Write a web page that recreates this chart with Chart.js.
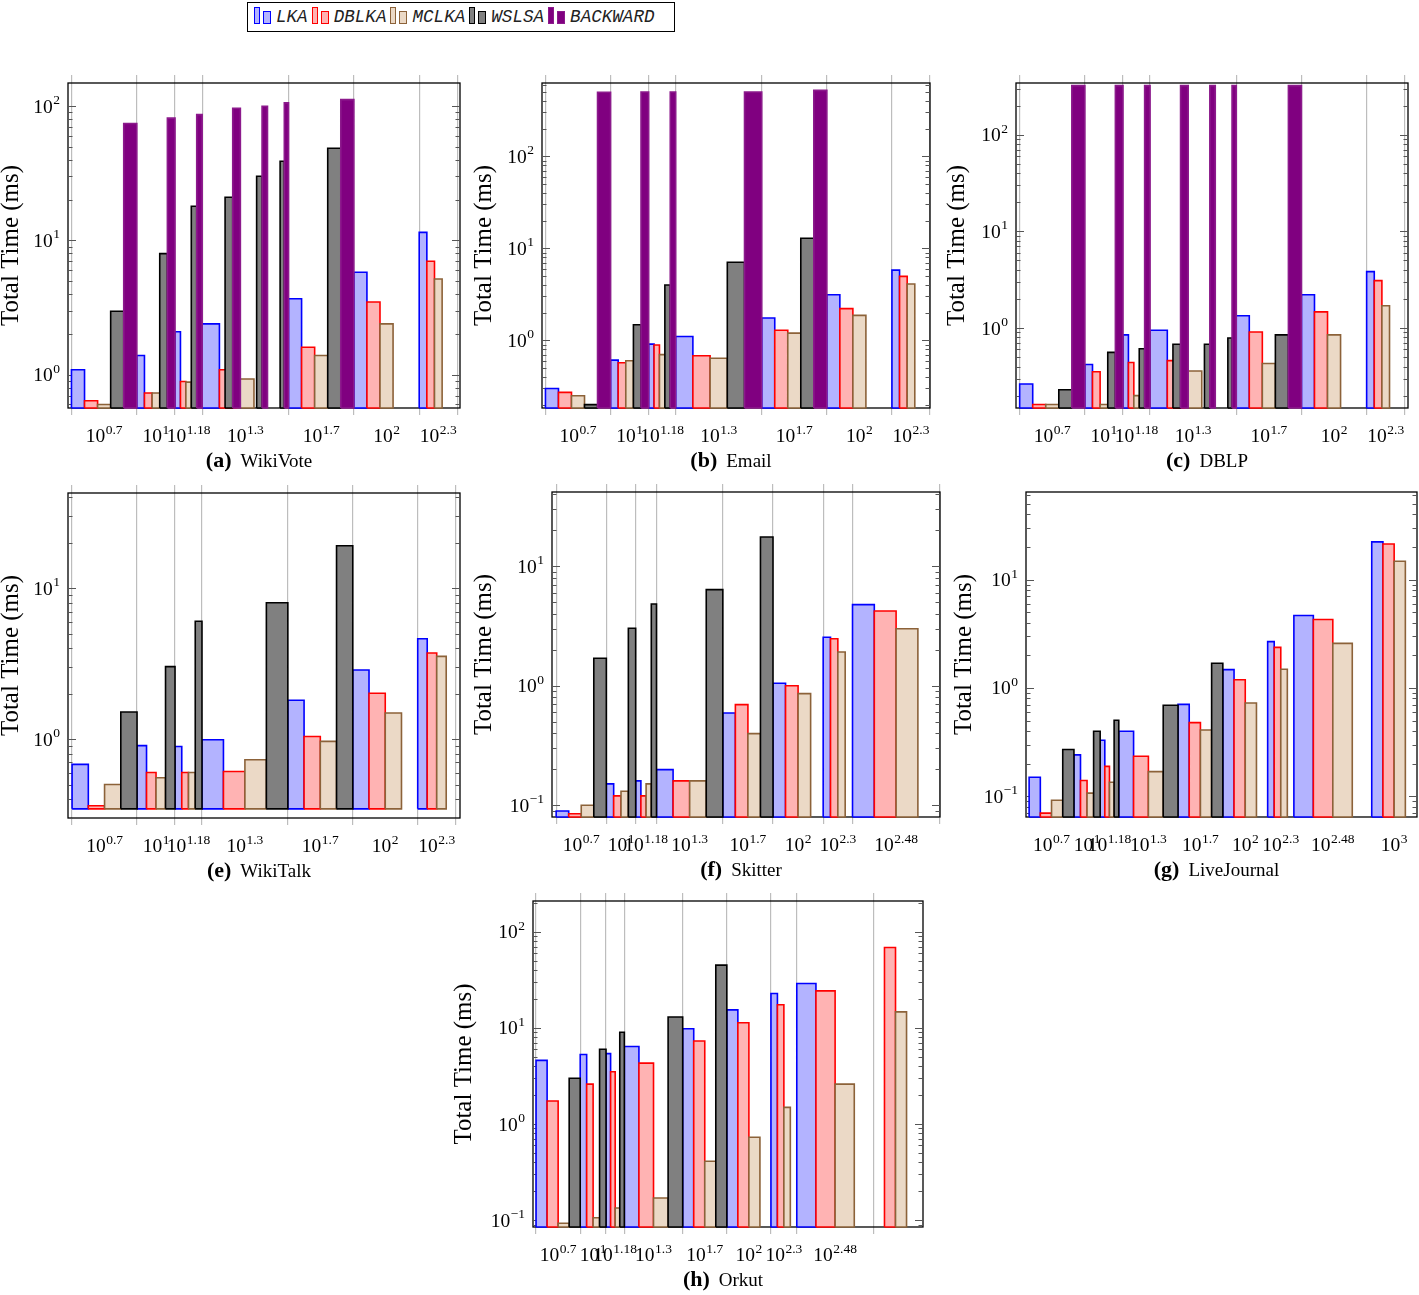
<!DOCTYPE html>
<html lang="en">
<head>
<meta charset="UTF-8">
<title>Total time per k</title>
<script src="https://cdn.jsdelivr.net/npm/chart.js@4.4.0/dist/chart.umd.min.js"></script>
<style>
  html, body { margin: 0; background: #fff; overflow: hidden; }
  #page { position: relative; width: 1419px; height: 1295px; }
  #page canvas { position: absolute; }
  #legend {
    position: absolute; left: 247px; top: 2px; width: 420px; height: 28px;
    border: 1.5px solid #000; display: flex; align-items: center; padding-left: 6px;
    box-sizing: content-box;
    font: italic 17.6px "Liberation Mono", "DejaVu Sans Mono", monospace; color: #222;
  }
  .item { display: flex; align-items: center; height: 28px; margin-right: 4px; }
  .sw { position: relative; width: 18px; height: 28px; margin-right: 4px; }
  .sw i { position: absolute; bottom: 7px; border: 1.5px solid; box-sizing: border-box; }
  .sw i:first-child { left: 0; width: 6px; height: 17px; }
  .sw i:last-child { left: 9px; width: 8px; height: 13px; }
  .item span { line-height: 28px; }
</style>
</head>
<body>
<div id="page">
  <div id="legend"></div>
</div>
<script>
  // k values (x axis is log scale, tick labels sit between ticks)
  const kTicks = [5, 10, 15, 20, 50, 100, 200, 300];
  const kTicksLong = [5, 10, 15, 20, 50, 100, 200, 300, 1000];
  const kTicksLJ = [5, 10, 15, 20, 50, 100, 200, 300, 1000, 2000];
  const kSweepFine = [5, 10, 15, 20, 30, 40, 50, 100];
  const kSweep = [5, 10, 15, 20, 50, 100];

  // (a) WikiVote
  const wikiVoteLKA = [1.09, 1.39, 2.09, 2.39, 3.68, 5.8, 11.5];
  const wikiVoteDBLKA = [0.64, 0.73, 0.89, 1.09, 1.6, 3.48, 7.0];
  const wikiVoteMCLKA = [0.6, 0.73, 0.88, 0.93, 1.39, 2.39, 5.16];
  const wikiVoteWSLSA = [2.97, 7.98, 18.0, 21.0, 30.1, 38.9, 48.7];
  const wikiVoteBACKWARD = [74.3, 81.5, 86.6, 96.6, 100, 106, 112];

  // (b) Email
  const emailLKA = [0.3, 0.61, 0.91, 1.1, 1.75, 3.13, 5.8];
  const emailDBLKA = [0.272, 0.57, 0.89, 0.68, 1.29, 2.21, 4.96];
  const emailMCLKA = [0.25, 0.6, 0.7, 0.64, 1.2, 1.87, 4.1];
  const emailWSLSA = [0.2, 1.48, 4.0, 7.05, 12.9];
  const emailBACKWARD = [497, 500, 500, 500, 521];

  // (c) DBLP
  const dblpLKA = [0.264, 0.42, 0.85, 0.95, 1.34, 2.21, 3.83];
  const dblpDBLKA = [0.162, 0.353, 0.44, 0.46, 0.91, 1.47, 3.09];
  const dblpMCLKA = [0.162, 0.162, 0.2, 0.36, 0.43, 0.85, 1.7];
  const dblpWSLSA = [0.23, 0.56, 0.61, 0.68, 0.68, 0.79, 0.85];
  const dblpBACKWARD = [321, 321, 321, 321, 321, 321, 321];

  // (e) WikiTalk
  const wikiTalkLKA = [0.68, 0.905, 0.893, 0.99, 1.81, 2.87, 4.62];
  const wikiTalkDBLKA = [0.362, 0.6, 0.6, 0.61, 1.04, 2.01, 3.72];
  const wikiTalkMCLKA = [0.5, 0.555, 0.6, 0.73, 0.966, 1.49, 3.53];
  const wikiTalkWSLSA = [1.51, 3.02, 6.04, 8.0, 19.1];

  // (f) Skitter
  const skitterLKA = [0.0897, 0.151, 0.16, 0.199, 0.593, 1.05, 2.55, 4.78];
  const skitterDBLKA = [0.085, 0.12, 0.12, 0.16, 0.696, 1.0, 2.48, 4.23];
  const skitterMCLKA = [0.1, 0.131, 0.151, 0.16, 0.398, 0.86, 1.92, 3.0];
  const skitterWSLSA = [1.7, 3.03, 4.84, 6.38, 17.6];

  // (g) LiveJournal
  const liveJournalLKA = [0.15, 0.241, 0.329, 0.398, 0.706, 1.476, 2.68, 4.66, 22.3];
  const liveJournalDBLKA = [0.07, 0.14, 0.189, 0.234, 0.479, 1.19, 2.37, 4.28, 21.3];
  const liveJournalMCLKA = [0.092, 0.107, 0.135, 0.169, 0.409, 0.727, 1.49, 2.58, 14.8];
  const liveJournalWSLSA = [0.27, 0.398, 0.503, 0.692, 1.69];

  // (h) Orkut
  const orkutLKA = [4.6, 5.3, 5.4, 6.4, 9.8, 15.4, 22.8, 29];
  const orkutDBLKA = [1.74, 2.6, 3.5, 4.3, 7.3, 11.3, 17.4, 24.3, 68.7];
  const orkutMCLKA = [0.093, 0.106, 0.134, 0.17, 0.41, 0.73, 1.49, 2.6, 14.7];
  const orkutWSLSA = [3.0, 6.0, 9.0, 13.0, 45];

  const seriesStyle = {
    LKA: { fill: '#b3b3ff', line: '#0000ff' },
    DBLKA: { fill: '#ffb3b3', line: '#ff0000' },
    MCLKA: { fill: '#ebd9c6', line: '#8c6239' },
    WSLSA: { fill: '#808080', line: '#000000' },
    BACKWARD: { fill: '#800080', line: '#8c1a8c' }
  };

  const SERIF = '"Liberation Serif", "Times New Roman", serif';
  const PAD = { left: 82, right: 3, top: 12, bottom: 75 };

  const panels = [
    { id: 'a', name: 'WikiVote', box: [68, 83, 392, 325], xLog: [0.683, 2.489], yLim: [0.565, 149],
      gridK: kTicks, labelK: kTicks, titleDx: 57,
      series: [['LKA', kTicks, wikiVoteLKA], ['DBLKA', kTicks, wikiVoteDBLKA], ['MCLKA', kTicks, wikiVoteMCLKA],
               ['WSLSA', kSweepFine, wikiVoteWSLSA], ['BACKWARD', kSweepFine, wikiVoteBACKWARD]] },
    { id: 'b', name: 'Email', box: [542, 83, 388, 325], xLog: [0.683, 2.477], yLim: [0.184, 627],
      gridK: kTicks, labelK: kTicks, titleDx: 58,
      series: [['LKA', kTicks, emailLKA], ['DBLKA', kTicks, emailDBLKA], ['MCLKA', kTicks, emailMCLKA],
               ['WSLSA', kSweep, emailWSLSA], ['BACKWARD', kSweep, emailBACKWARD]] },
    { id: 'c', name: 'DBLP', box: [1016, 83, 392, 325], xLog: [0.682, 2.492], yLim: [0.149, 342],
      gridK: kTicks, labelK: kTicks, titleDx: 58.5,
      series: [['LKA', kTicks, dblpLKA], ['DBLKA', kTicks, dblpDBLKA], ['MCLKA', kTicks, dblpMCLKA],
               ['WSLSA', kSweepFine, dblpWSLSA], ['BACKWARD', kSweepFine, dblpBACKWARD]] },
    { id: 'e', name: 'WikiTalk', box: [68, 493, 392, 325], xLog: [0.68, 2.497], yLim: [0.345, 42.7],
      gridK: kTicks, labelK: kTicks, titleDx: 57,
      series: [['LKA', kTicks, wikiTalkLKA], ['DBLKA', kTicks, wikiTalkDBLKA], ['MCLKA', kTicks, wikiTalkMCLKA],
               ['WSLSA', kSweep, wikiTalkWSLSA]] },
    { id: 'f', name: 'Skitter', box: [552, 492, 388, 325], xLog: [0.674, 3.002], yLim: [0.0798, 41.9],
      gridK: kTicksLong, labelK: kTicksLong, titleDx: 67.5,
      series: [['LKA', kTicksLong, skitterLKA], ['DBLKA', kTicksLong, skitterDBLKA], ['MCLKA', kTicksLong, skitterMCLKA],
               ['WSLSA', kSweep, skitterWSLSA]] },
    { id: 'g', name: 'LiveJournal', box: [1026, 492, 391, 325], xLog: [0.678, 3.304], yLim: [0.0644, 64.4],
      gridK: [], labelK: kTicksLJ, titleDx: 62,
      series: [['LKA', kTicksLJ, liveJournalLKA], ['DBLKA', kTicksLJ, liveJournalDBLKA], ['MCLKA', kTicksLJ, liveJournalMCLKA],
               ['WSLSA', kSweep, liveJournalWSLSA]] },
    { id: 'h', name: 'Orkut', box: [533, 901, 390, 326], xLog: [0.678, 3.338], yLim: [0.085, 209],
      gridK: kTicksLong, labelK: kTicksLong, titleDx: 68.5,
      series: [['LKA', kTicksLong, orkutLKA], ['DBLKA', kTicksLJ, orkutDBLKA], ['MCLKA', kTicksLJ, orkutMCLKA],
               ['WSLSA', kSweep, orkutWSLSA]] }
  ];

  // legend
  const legend = document.getElementById('legend');
  Object.keys(seriesStyle).forEach(name => {
    const st = seriesStyle[name];
    const item = document.createElement('div');
    item.className = 'item';
    item.innerHTML = `<div class="sw"><i></i><i></i></div><span>${name}</span>`;
    item.querySelectorAll('i').forEach(r => { r.style.background = st.fill; r.style.borderColor = st.line; });
    legend.appendChild(item);
  });

  // each bar of series `slot` covers its share of the interval [k_i, k_i+1]
  function barPoints(k, vals, slot, slots, base) {
    const pts = [];
    vals.forEach((v, i) => {
      if (v == null) return;
      const a = Math.log10(k[i]), b = Math.log10(k[i + 1]);
      const x0 = 10 ** (a + (b - a) * slot / slots);
      const x1 = 10 ** (a + (b - a) * (slot + 1) / slots);
      pts.push({ x: x0, y: base }, { x: x0, y: v }, { x: x1, y: v }, { x: x1, y: base }, { x: x0, y: base }, { x: x1, y: null });
    });
    return pts;
  }

  function expText(v) {
    const e = Math.round(Math.log10(v) * 100) / 100;
    return e < 0 ? '\u2212' + (-e) : String(e);
  }

  function drawPow(ctx, exp, x, y, align) {
    ctx.font = '19.5px ' + SERIF;
    const wb = ctx.measureText('10').width;
    ctx.font = '13.5px ' + SERIF;
    const we = ctx.measureText(exp).width;
    const w = wb + we + 0.5;
    const x0 = align === 'right' ? x - w : x - w / 2;
    ctx.textAlign = 'left';
    ctx.textBaseline = 'alphabetic';
    ctx.font = '19.5px ' + SERIF;
    ctx.fillText('10', x0, y);
    ctx.font = '13.5px ' + SERIF;
    ctx.fillText(exp, x0 + wb + 0.5, y - 8.5);
  }

  function panelPlugin(p) {
    return {
      id: 'pgfAxes',
      beforeDatasetsDraw(chart) {
        const { ctx, chartArea: a } = chart;
        const y = chart.scales.y;
        ctx.save();
        ctx.strokeStyle = '#000';
        ctx.lineWidth = 1.3;
        ctx.strokeRect(a.left, a.top, a.right - a.left, a.bottom - a.top);
        ctx.strokeStyle = '#555';
        ctx.lineWidth = 1;
        const lo = Math.floor(Math.log10(y.min)), hi = Math.ceil(Math.log10(y.max));
        ctx.beginPath();
        for (let d = lo; d <= hi; d++) {
          for (let m = 1; m <= 9; m++) {
            const v = m * 10 ** d;
            if (v < y.min || v > y.max) continue;
            const py = Math.round(y.getPixelForValue(v)) + 0.5;
            const len = m === 1 ? 8 : 4.5;
            ctx.moveTo(a.left, py); ctx.lineTo(a.left + len, py);
            ctx.moveTo(a.right, py); ctx.lineTo(a.right - len, py);
          }
        }
        ctx.stroke();
        ctx.restore();
      },
      afterDraw(chart) {
        const { ctx, chartArea: a } = chart;
        const x = chart.scales.x, y = chart.scales.y;
        ctx.save();
        ctx.fillStyle = '#000';
        // y tick labels at each decade
        const lo = Math.ceil(Math.log10(y.min)), hi = Math.floor(Math.log10(y.max));
        for (let d = lo; d <= hi; d++) {
          drawPow(ctx, d < 0 ? '\u2212' + (-d) : String(d), a.left - 8, y.getPixelForValue(10 ** d) + 6.5, 'right');
        }
        // x tick labels centred in each interval
        for (let i = 0; i < p.labelK.length - 1; i++) {
          const mid = Math.sqrt(p.labelK[i] * p.labelK[i + 1]);
          drawPow(ctx, expText(p.labelK[i]), x.getPixelForValue(mid), a.bottom + 34, 'center');
        }
        // caption
        const tag = '(' + p.id + ')';
        ctx.font = 'bold 22px ' + SERIF;
        const wt = ctx.measureText(tag).width;
        ctx.font = '19px ' + SERIF;
        const wn = ctx.measureText(p.name).width;
        const cx = (a.left + a.right) / 2 - 5 - (wt + 9 + wn) / 2;
        ctx.textAlign = 'left';
        ctx.font = 'bold 22px ' + SERIF;
        ctx.fillText(tag, cx, a.bottom + 59);
        ctx.font = '19px ' + SERIF;
        ctx.fillText(p.name, cx + wt + 9, a.bottom + 59);
        // y title
        ctx.translate(a.left - p.titleDx, (a.top + a.bottom) / 2);
        ctx.rotate(-Math.PI / 2);
        ctx.textAlign = 'center';
        ctx.textBaseline = 'middle';
        ctx.font = '25px ' + SERIF;
        ctx.fillText('Total Time (ms)', 0, 0);
        ctx.restore();
      }
    };
  }

  const page = document.getElementById('page');

  panels.forEach(p => {
    const [bl, bt, bw, bh] = p.box;
    const cv = document.createElement('canvas');
    cv.width = PAD.left + bw + PAD.right;
    cv.height = PAD.top + bh + PAD.bottom;
    cv.style.left = (bl - PAD.left) + 'px';
    cv.style.top = (bt - PAD.top) + 'px';
    page.appendChild(cv);

    const hasGrid = p.gridK.length > 0;
    const tickTop = hasGrid ? 8 : 0, tickBot = hasGrid ? 7 : 0;
    const slots = p.series.length;

    const xAxis = (pos, len) => ({
      type: 'logarithmic',
      position: pos,
      min: 10 ** p.xLog[0],
      max: 10 ** p.xLog[1],
      afterBuildTicks: sc => { sc.ticks = p.gridK.map(v => ({ value: v })); },
      ticks: { display: false },
      border: { display: false },
      grid: {
        display: hasGrid, drawTicks: hasGrid, tickLength: len,
        color: '#bdbdbd', lineWidth: 1.2, drawOnChartArea: pos === 'bottom'
      }
    });

    new Chart(cv, {
      type: 'line',
      data: {
        datasets: p.series.map(([name, k, vals], s) => ({
          label: name,
          data: barPoints(k, vals, s, slots, p.yLim[0]),
          borderColor: seriesStyle[name].line,
          backgroundColor: seriesStyle[name].fill,
          borderWidth: 1.6,
          borderJoinStyle: 'miter',
          fill: 'shape',
          tension: 0,
          pointRadius: 0,
          spanGaps: false,
          clip: false,
          order: slots - s
        }))
      },
      options: {
        responsive: false,
        animation: false,
        devicePixelRatio: 1,
        layout: { padding: { left: PAD.left, right: PAD.right, top: PAD.top - tickTop, bottom: PAD.bottom - tickBot } },
        plugins: { legend: { display: false }, tooltip: { enabled: false } },
        scales: {
          x: xAxis('bottom', tickBot),
          xTop: xAxis('top', tickTop),
          y: { type: 'logarithmic', display: false, min: p.yLim[0], max: p.yLim[1] }
        }
      },
      plugins: [panelPlugin(p)]
    });
  });
</script>
</body>
</html>
